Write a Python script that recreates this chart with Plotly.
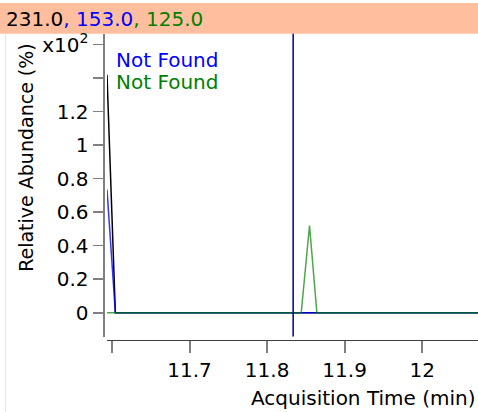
import plotly.graph_objects as go

# ---- data (y in units of x10^2 %) ----
ions = ["231.0", "153.0", "125.0"]
series_colors = ["black", "blue", "green"]

black_time = [11.5935, 11.6043, 12.08]
black_abund = [1.42, 0.0, 0.0]

blue_time = [11.5935, 11.6043, 12.08]
blue_abund = [0.735, 0.0, 0.0]

green_time = [11.5935, 11.844, 11.8547, 11.8642, 12.08]
green_abund = [0.0, 0.0, 0.521, 0.0, 0.0]

marker_time = 11.8336

y_tick_vals = [0, 0.2, 0.4, 0.6, 0.8, 1.0, 1.2, 1.4, 1.6]
y_tick_text = ["0", "0.2", "0.4", "0.6", "0.8", "1", "1.2", " ", "x10<sup>2</sup>"]
x_tick_vals = [11.6, 11.7, 11.8, 11.9, 12.0]
x_tick_text = [" ", "11.7", "11.8", "11.9", "12"]

legend_texts = ["Not Found", "Not Found"]

W, H = 478, 412
FONT = "DejaVu Sans"

fig = go.Figure()
fig.add_trace(go.Scatter(x=black_time, y=black_abund, mode="lines",
                         line=dict(color="black", width=1.5), hoverinfo="skip"))
fig.add_trace(go.Scatter(x=blue_time, y=blue_abund, mode="lines", opacity=0.8,
                         line=dict(color="blue", width=1.5), hoverinfo="skip"))
fig.add_trace(go.Scatter(x=green_time, y=green_abund, mode="lines", opacity=0.7,
                         line=dict(color="green", width=1.5), hoverinfo="skip"))

x0p = 107 / W
y_bot = (H - 336) / H
y_top = (H - 31) / H

fig.update_layout(
    width=W, height=H,
    margin=dict(l=0, r=0, t=0, b=0),
    paper_bgcolor="white", plot_bgcolor="white",
    showlegend=False,
    font=dict(family=FONT, size=20, color="black"),
    xaxis=dict(
        domain=[x0p, 1], range=[11.5935, 12.072],
        anchor="free", position=(H - 339) / H,
        showgrid=False, zeroline=False,
        showline=True, linecolor="#404040", linewidth=1.5,
        ticks="outside", ticklen=12, tickwidth=2, tickcolor="#808080",
        tickvals=x_tick_vals, ticktext=x_tick_text,
        tickfont=dict(size=20, family=FONT),
    ),
    yaxis=dict(
        domain=[y_bot, y_top], range=[-0.142, 1.665],
        anchor="free", position=103.5 / W,
        showgrid=False, zeroline=False,
        showline=True, linecolor="#808080", linewidth=2,
        ticks="outside", ticklen=10, tickwidth=1.5, tickcolor="#808080",
        tickvals=y_tick_vals, ticktext=y_tick_text,
        tickfont=dict(size=20, family=FONT),
    ),
)

# header band
fig.add_shape(type="rect", xref="paper", yref="paper",
              x0=0, x1=1, y0=(H - 31) / H, y1=1,
              fillcolor="#FFBF9F", line=dict(width=0), layer="below")
# left light border
fig.add_shape(type="line", xref="paper", yref="paper",
              x0=5.5 / W, x1=5.5 / W, y0=0, y1=(H - 31) / H,
              line=dict(color="#e4e4e4", width=1))
# marker line
fig.add_shape(type="line", xref="x", yref="paper",
              x0=marker_time, x1=marker_time, y0=y_bot, y1=y_top,
              line=dict(color="#000080", width=1.5))

header = (f'<span style="color:{series_colors[0]}">{ions[0]}</span>'
          f'<span style="color:{series_colors[1]}">, {ions[1]}</span>'
          f'<span style="color:{series_colors[2]}">, {ions[2]}</span>')
fig.add_annotation(xref="paper", yref="paper", x=4 / W, y=(H - 16) / H,
                   xanchor="left", yanchor="middle", showarrow=False,
                   text=header, font=dict(size=20, family=FONT))

for i, (txt, col) in enumerate(zip(legend_texts, series_colors[1:])):
    fig.add_annotation(xref="paper", yref="paper", x=114 / W, y=(H - (57 + 23 * i)) / H,
                       xanchor="left", yanchor="middle", showarrow=False,
                       text=txt, font=dict(size=20, family=FONT, color=col))

fig.add_annotation(xref="paper", yref="paper", x=26 / W, y=(H - 156) / H,
                   xanchor="center", yanchor="middle", showarrow=False, textangle=-90,
                   text="Relative Abundance (%)", font=dict(size=19, family=FONT))
fig.add_annotation(xref="paper", yref="paper", x=478 / W, y=(H - 398) / H,
                   xanchor="right", yanchor="middle", showarrow=False,
                   text="Acquisition Time (min)", font=dict(size=20, family=FONT))

fig.write_html("out.html",
               config={"displayModeBar": False, "staticPlot": True},
               post_script="document.body.style.margin='0';document.body.style.overflow='hidden';")
